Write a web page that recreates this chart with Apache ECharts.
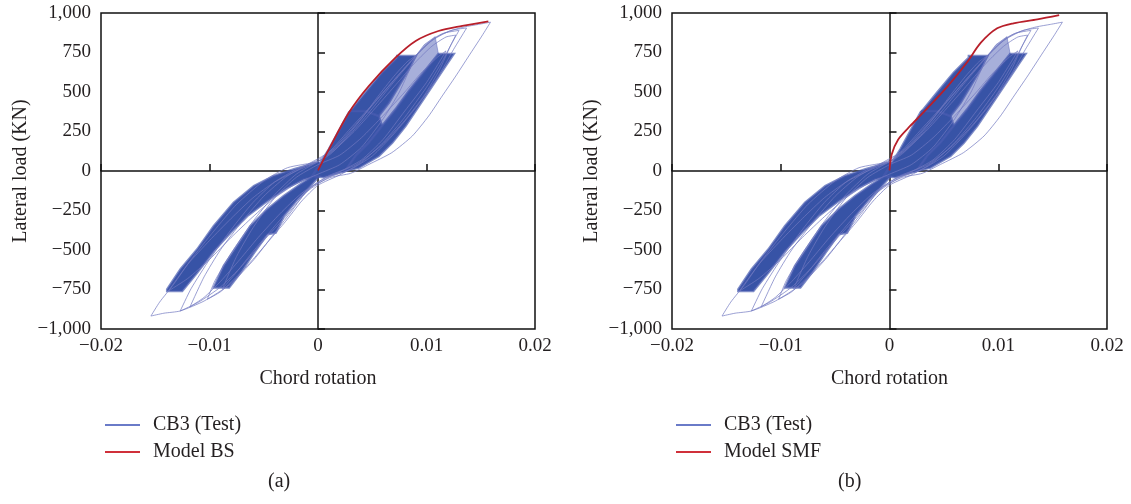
<!DOCTYPE html>
<html>
<head>
<meta charset="utf-8">
<script src="https://cdn.jsdelivr.net/npm/echarts@6/dist/echarts.min.js"></script>
<style>
html,body{margin:0;padding:0;background:#fff;}
#chart{width:1131px;height:504px;}
</style>
</head>
<body>
<div id="chart"></div>
<script>
// ---- Data (chord rotation, lateral load kN) ----
const xTicks = [-0.02, -0.01, 0, 0.01, 0.02];
const yTicks = [-1000, -750, -500, -250, 0, 250, 500, 750, 1000];
const panelLabels = ['(a)', '(b)'];
const testName = 'CB3 (Test)';
const modelNames = ['Model BS', 'Model SMF'];

// Model BS backbone (panel a)
const modelBS = [[0,4],[0.001,137],[0.00284,369],[0.00468,538],[0.00714,717],[0.009,823],[0.0111,886],[0.0133,918],[0.0157,947]];
// Model SMF backbone (panel b)
const modelSMF = [[0,4],[0.0002,105],[0.0008,200],[0.0019,285],[0.0031,369],[0.0053,532],[0.0071,685],[0.0084,812],[0.0099,903],[0.0114,935],[0.0136,960],[0.0156,987]];

// Test hysteresis – outline cycles
const loop1 = [[-0.0154,-918],[-0.0142,-900],[-0.0127,-886],[-0.0105,-823],[-0.0081,-717],[-0.0059,-560],[-0.0042,-410],[-0.0025,-260],[-0.0008,-110],[0.0012,-40],[0.003,-15],[0.0047,42],[0.0068,116],[0.0087,222],[0.0102,348],[0.01145,475],[0.0127,601],[0.0139,728],[0.0151,854],[0.0159,942],[0.0148,928],[0.0135,912],[0.012,882],[0.0105,825],[0.009,725],[0.007,565],[0.005,395],[0.003,235],[0.0012,110],[0,60],[-0.0028,21],[-0.005,-63],[-0.0075,-211],[-0.0096,-380],[-0.0118,-570],[-0.0133,-717],[-0.0146,-830],[-0.0154,-918]];
const loop2 = [[-0.0127,-886],[-0.011,-830],[-0.009,-735],[-0.007,-600],[-0.005,-440],[-0.003,-290],[-0.001,-130],[0.001,-40],[0.003,10],[0.005,95],[0.007,235],[0.009,400],[0.011,590],[0.0125,770],[0.0137,905],[0.0124,892],[0.0108,845],[0.0092,745],[0.0075,615],[0.0055,455],[0.0035,295],[0.0015,145],[0,70],[-0.002,10],[-0.004,-70],[-0.006,-200],[-0.008,-370],[-0.01,-560],[-0.0117,-745],[-0.0127,-886]];
const loop3 = [[-0.0102,-812],[-0.009,-765],[-0.0075,-670],[-0.006,-560],[-0.0045,-440],[-0.003,-320],[-0.0015,-190],[0,-90],[0.002,-25],[0.004,55],[0.006,180],[0.008,340],[0.01,530],[0.0115,700],[0.0127,860],[0.0118,848],[0.0105,790],[0.009,690],[0.0072,548],[0.0055,415],[0.0035,262],[0.0015,132],[0,60],[-0.002,-20],[-0.004,-150],[-0.006,-320],[-0.008,-520],[-0.0095,-695],[-0.0102,-812]];
const loop4 = [[-0.0088,-745],[-0.0075,-640],[-0.006,-510],[-0.0045,-390],[-0.003,-270],[-0.0015,-160],[0,-70],[0.002,-5],[0.004,70],[0.006,200],[0.008,380],[0.01,560],[0.0118,760],[0.011,720],[0.0095,620],[0.008,500],[0.006,350],[0.004,210],[0.002,100],[0,40],[-0.002,-40],[-0.004,-170],[-0.006,-360],[-0.0075,-540],[-0.0088,-745]];
const loop5 = [[-0.0138,-760],[-0.012,-680],[-0.01,-560],[-0.008,-420],[-0.006,-290],[-0.004,-170],[-0.002,-80],[0,-20],[0.002,40],[0.004,150],[0.006,330],[0.0075,500],[0.009,730],[0.0082,690],[0.007,600],[0.0055,470],[0.004,330],[0.002,170],[0,60],[-0.002,0],[-0.004,-70],[-0.006,-170],[-0.008,-300],[-0.01,-440],[-0.012,-590],[-0.0138,-760]];
const loop6 = [[-0.0118,-860],[-0.0105,-800],[-0.009,-700],[-0.0072,-560],[-0.0055,-420],[-0.0035,-270],[-0.0015,-140],[0.001,-30],[0.0035,40],[0.0058,160],[0.008,320],[0.0098,480],[0.0112,640],[0.0122,790],[0.013,890],[0.0115,870],[0.01,800],[0.0085,690],[0.0068,560],[0.005,420],[0.003,270],[0.001,120],[-0.001,40],[-0.003,-40],[-0.005,-160],[-0.007,-320],[-0.009,-500],[-0.0105,-670],[-0.0118,-860]];

// Test hysteresis – densely overplotted cycle bands
const bandC = [[-0.0139,-760],[-0.0139,-749],[-0.01267,-622],[-0.01113,-496],[-0.0096,-348],[-0.00776,-200],[-0.0059,-95],[-0.0041,-32],[-0.0022,11],[-0.001,35],[0,55],[0.0005,30],[0,-32],[-0.00131,-53],[-0.00284,-106],[-0.00468,-190],[-0.00653,-285],[-0.00806,-390],[-0.0096,-506],[-0.01113,-643],[-0.01252,-760]];
const bandD = [[-0.0096,-738],[-0.00868,-601],[-0.00745,-475],[-0.00622,-348],[-0.00468,-243],[-0.00315,-158],[-0.00161,-84],[-0.0004,-32],[0,-40],[-0.001,-116],[-0.0019,-179],[-0.00315,-285],[-0.0039,-390],[-0.00468,-401],[-0.0059,-517],[-0.00714,-643],[-0.0082,-738]];
const bandA = [[-0.0005,-30],[0.001,137],[0.00284,369],[0.003,380],[0.0044,380],[0.0056,348],[0.0059,285],[0.00468,179],[0.00346,95],[0.0025,0],[0.0015,-20],[0.0005,-40]];
const bandB = [[0.003,380],[0.00438,496],[0.0059,622],[0.0073,717],[0.0073,728],[0.009,728],[0.00837,644],[0.00745,538],[0.00653,432],[0.0056,348],[0.0044,380]];
const bandE = [[0.00346,95],[0.00468,179],[0.0059,285],[0.00714,390],[0.00837,506],[0.0096,612],[0.0111,740],[0.0125,740],[0.01175,665],[0.01052,538],[0.00929,411],[0.00806,285],[0.00684,179],[0.0056,95],[0.00376,21],[0.0025,0]];
// lighter (fewer overlapping cycles) band between B and E
const bandM = [[0.0056,348],[0.00653,432],[0.00745,538],[0.00837,644],[0.009,728],[0.0098,800],[0.0108,850],[0.0111,740],[0.0096,612],[0.00837,506],[0.00714,390],[0.0059,285]];

const loops = [loop1, loop2, loop3, loop4, loop5, loop6];
const denseBands = [bandC, bandD, bandA, bandB, bandE];
const lightBands = [bandM];
const models = [modelBS, modelSMF];

// ---- Build options ----
const FONT = 'Liberation Serif';
const TXT = '#231f20';
const fmtX = v => { const r = Math.round(v * 100) / 100; if (r === 0) return '0'; return (r < 0 ? '\u2212' : '') + Math.abs(r).toFixed(2); };
const fmtY = v => { const r = Math.round(v); if (r === 0) return '0'; const a = Math.abs(r).toLocaleString('en-US'); return (r < 0 ? '\u2212' : '') + a; };

const loopData = [];
loops.forEach(l => { l.forEach(p => loopData.push(p)); loopData.push(['-', '-']); });

function polySeries(list, style, xi, yi, z) {
  return {
    type: 'custom', name: testName, xAxisIndex: xi, yAxisIndex: yi, silent: true, z: z,
    data: list.map((b, k) => [b[0][0], b[0][1], k]),
    renderItem: (params, api) => {
      const b = list[params.dataIndex];
      return {type: 'polygon', shape: {points: b.map(p => api.coord(p))}, style: style};
    }
  };
}

const gridPos = [{left: 101, width: 434}, {left: 672, width: 435}];
const grids = [], xAxes = [], yAxes = [], series = [], legends = [], graphics = [];
gridPos.forEach((g, i) => {
  grids.push({left: g.left, width: g.width, top: 13, height: 316, show: true, borderColor: '#111', borderWidth: 1.5, backgroundColor: 'transparent'});
  const xBase = {type: 'value', gridIndex: i, min: xTicks[0], max: xTicks[xTicks.length-1], interval: 0.01, splitLine: {show: false}};
  const yBase = {type: 'value', gridIndex: i, min: yTicks[0], max: yTicks[yTicks.length-1], interval: 250, splitLine: {show: false}};
  xAxes.push(Object.assign({}, xBase, {
    position: 'bottom', axisLine: {show: false, onZero: false}, axisTick: {show: false},
    axisLabel: {formatter: fmtX, fontFamily: FONT, fontSize: 19, color: TXT, margin: 8},
    name: 'Chord rotation', nameLocation: 'middle', nameGap: 40,
    nameTextStyle: {fontFamily: FONT, fontSize: 20, color: TXT}
  }));
  xAxes.push(Object.assign({}, xBase, {
    position: 'bottom', axisLine: {show: true, onZero: true, lineStyle: {color: '#111', width: 1.5}},
    axisTick: {show: true, inside: true, length: 7, lineStyle: {color: '#111', width: 1.5}},
    axisLabel: {show: false}
  }));
  yAxes.push(Object.assign({}, yBase, {
    position: 'left', axisLine: {show: false, onZero: false}, axisTick: {show: false},
    axisLabel: {formatter: fmtY, fontFamily: FONT, fontSize: 19, color: TXT, margin: 10},
    name: 'Lateral load (KN)', nameLocation: 'middle', nameGap: 70,
    nameTextStyle: {fontFamily: FONT, fontSize: 20, color: TXT}
  }));
  yAxes.push(Object.assign({}, yBase, {
    position: 'left', axisLine: {show: true, onZero: true, lineStyle: {color: '#111', width: 1.5}},
    axisTick: {show: true, inside: true, length: 7, lineStyle: {color: '#111', width: 1.5}},
    axisLabel: {show: false}
  }));
  const xi = i * 2, yi = i * 2;
  series.push(polySeries(lightBands, {fill: 'rgba(95,110,188,0.55)', stroke: 'rgba(110,120,195,0.6)', lineWidth: 1}, xi, yi, 1));
  series.push(polySeries(denseBands, {fill: '#3753a6', stroke: 'rgba(70,90,175,0.7)', lineWidth: 2.5}, xi, yi, 2));
  series.push({
    type: 'line', name: testName, xAxisIndex: xi, yAxisIndex: yi, data: loopData, showSymbol: false, connectNulls: false,
    smooth: 0.2, silent: true, z: 3, color: '#6a7bc8',
    lineStyle: {color: 'rgba(112,120,192,0.7)', width: 1}
  });
  series.push({
    type: 'line', name: modelNames[i], xAxisIndex: xi, yAxisIndex: yi, data: models[i], showSymbol: false,
    smooth: 0.3, silent: true, z: 5, color: '#c8232c',
    lineStyle: {color: '#b81f2a', width: 1.8}
  });
  legends.push({
    left: g.left - 1, top: 410, orient: 'vertical', icon: 'rect', itemWidth: 35, itemHeight: 2, itemGap: 7,
    selectedMode: false,
    textStyle: {fontFamily: FONT, fontSize: 20, color: TXT, lineHeight: 20, padding: [0, 0, 0, 8]},
    data: [{name: testName, itemStyle: {color: '#6a7bc8'}}, {name: modelNames[i], itemStyle: {color: '#d0303a'}}]
  });
  graphics.push({type: 'text', left: (i === 0 ? 268 : 838), top: 472,
    style: {text: panelLabels[i], font: '20px "' + FONT + '"', fill: TXT}});
});

const chart = echarts.init(document.getElementById('chart'), null, {renderer: 'canvas'});
chart.setOption({
  animation: false,
  backgroundColor: '#fff',
  grid: grids, xAxis: xAxes, yAxis: yAxes, series: series, legend: legends, graphic: graphics
});
</script>
</body>
</html>
